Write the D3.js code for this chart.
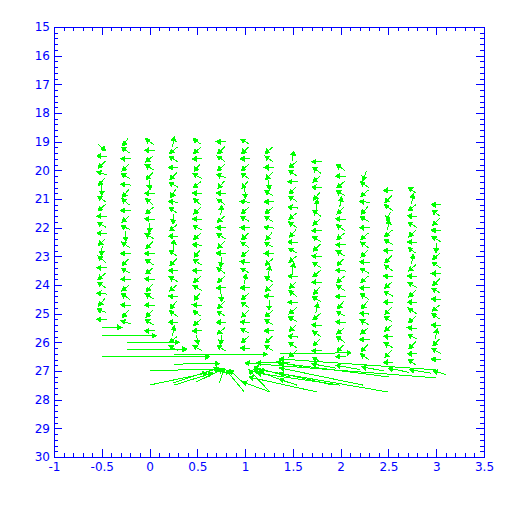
<!DOCTYPE html>
<html>
<head>
<meta charset="utf-8">
<script src="https://cdn.jsdelivr.net/npm/d3@7"></script>
<style>
  body { margin: 0; background: #fff; }
</style>
</head>
<body>
<svg id="chart" width="512" height="512"></svg>
<script>
// axis ticks
const xTicks = [-1, -0.5, 0, 0.5, 1, 1.5, 2, 2.5, 3, 3.5]
const xLabels = ["-1", "-0.5", "0", "0.5", "1", "1.5", "2", "2.5", "3", "3.5"]
const yTicks = [15, 16, 17, 18, 19, 20, 21, 22, 23, 24, 25, 26, 27, 28, 29, 30]
const yLabels = ["15", "16", "17", "18", "19", "20", "21", "22", "23", "24", "25", "26", "27", "28", "29", "30"]

// grid columns of the small vectors, first row of each column
const colX   = [-0.5, -0.25, 0, 0.25, 0.5, 0.75, 1, 1.25, 1.5, 1.75, 2, 2.25, 2.5, 2.75, 3]
const colTop = [19.2, 19.0, 19.0, 19.0, 19.0, 19.0, 19.0, 19.3, 19.5, 19.7, 19.9, 20.2, 20.7, 20.7, 21.2]
const rowStep = 0.3

// direction of each small vector (deg, 0 = +x, 90 = +y), one list per column, top to bottom
const dirs = [
  [40,180,135,200,130,90,215,140,180,210,185,135,95,220,180,140,215,185,130,200,180],
  [125,215,180,135,210,185,130,220,180,140,200,90,215,180,135,210,180,140,215,185,130,200],
  [215,180,140,210,135,85,180,220,140,185,95,210,135,180,215,140,185,130,210,180,135,215,180],
  [280,140,215,180,135,210,120,185,215,95,140,180,275,215,135,180,210,140,185,130,215,180,280,140,210],
  [215,140,180,130,210,140,185,220,135,180,210,140,185,130,215,180,140,210,130,185,215,140,180,80,210],
  [180,135,215,140,200,130,185,215,275,140,180,210,135,185,95,215,140,180,85,135,210,180,140,100,215],
  [210,135,180,140,215,130,85,185,140,210,180,135,215,140,185,210,280,180,140,215,135,185,210,140,180],
  [140,215,180,135,85,210,180,140,215,185,130,210,180,140,280,215,135,185,90,140,210,180,135,215],
  [280,140,215,180,135,210,185,140,215,130,180,210,140,280,185,135,215,180,140,210,135,185,215,140],
  [180,215,140,185,130,275,215,140,180,210,135,185,215,140,180,130,210,280,140,185,215,135,180,210],
  [215,180,140,210,280,135,185,215,140,180,210,135,185,140,215,180,130,210,185,140,215,135,180],
  [110,215,140,185,130,210,180,140,215,135,185,210,140,180,215,130,185,210,140,180,135,215],
  [180,135,215,115,280,140,210,180,135,215,185,140,210,180,135,215,140,185,210,135,180],
  [215,280,140,185,210,135,180,215,280,140,185,210,135,180,215,140,185,210,135,180,215],
  [180,215,135,185,210,95,140,215,180,135,210,185,140,215,180,280,135,210,185]
]

// long vectors near the sink: [x tail, y tail, x head, y head]
const longVecs = [
  [-0.5, 25.48, -0.29, 25.48],
  [-0.5, 25.77, 0.07, 25.77],
  [-0.24, 26.0, 0.31, 26.0],
  [-0.24, 26.24, 0.39, 26.24],
  [-0.5, 26.51, 0.63, 26.5],
  [0.26, 26.44, 1.23, 26.42],
  [1.36, 26.38, 2.11, 26.37],
  [0.26, 26.76, 0.73, 26.74],
  [0.0, 26.99, 0.74, 26.93],
  [0.0, 27.49, 0.6, 27.07],
  [0.24, 27.42, 0.72, 26.9],
  [0.26, 27.49, 0.66, 27.07],
  [0.49, 27.38, 0.77, 26.93],
  [0.73, 27.42, 0.78, 26.9],
  [0.99, 27.73, 0.8, 26.96],
  [0.97, 27.38, 0.84, 26.96],
  [1.26, 27.73, 1.04, 26.96],
  [1.47, 27.42, 1.09, 26.96],
  [1.47, 27.21, 1.09, 26.86],
  [1.47, 26.72, 1.12, 26.72],
  [3.0, 27.24, 1.0, 26.72],
  [2.49, 27.73, 1.15, 26.96],
  [1.99, 27.49, 1.12, 27.07],
  [1.75, 27.73, 1.04, 27.21],
  [1.26, 27.73, 0.97, 27.38],
  [2.51, 27.21, 1.36, 26.72],
  [2.23, 27.49, 1.36, 26.89],
  [1.92, 27.49, 1.36, 27.07],
  [3.0, 26.96, 1.36, 26.58],
  [1.54, 27.49, 1.36, 27.28],
  [1.6, 26.85, 1.33, 26.68],
  [1.95, 26.9, 1.7, 26.75],
  [2.2, 26.95, 1.95, 26.8],
  [2.45, 27.0, 2.22, 26.85],
  [2.72, 27.05, 2.5, 26.9],
  [2.95, 27.08, 2.72, 26.95],
  [3.1, 27.12, 2.97, 27.0]
]

const blue = "#0000ff"
const green = "#00ff00"

const svg = d3.select("svg#chart")
const x = d3.scaleLinear([-1, 3.5], [54, 484])
const y = d3.scaleLinear([15, 30], [27, 457])

// arrow: shaft plus small filled head at the tip
function arrow(x1, y1, x2, y2) {
  const a = Math.atan2(y2 - y1, x2 - x1), h = 4, w = 2.3
  const bx = x2 - h * Math.cos(a), by = y2 - h * Math.sin(a)
  return `M${x1},${y1}L${x2},${y2}` +
    `M${bx + w * Math.sin(a)},${by - w * Math.cos(a)}L${x2},${y2}` +
    `L${bx - w * Math.sin(a)},${by + w * Math.cos(a)}Z`
}

const small = []
dirs.forEach((list, i) => {
  list.forEach((deg, j) => {
    small.push({x: colX[i], y: colTop[i] + j * rowStep, deg})
  })
})

const half = 5
const vec = svg.append("g")
    .attr("stroke", green)
    .attr("fill", green)
    .attr("stroke-width", 1)
    .attr("shape-rendering", "crispEdges")

vec.selectAll("path.small")
  .data(small)
  .join("path")
    .attr("class", "small")
    .attr("d", d => {
      const cx = x(d.x), cy = y(d.y), r = d.deg * Math.PI / 180
      const dx = half * Math.cos(r), dy = half * Math.sin(r)
      return arrow(cx - dx, cy - dy, cx + dx, cy + dy)
    })

vec.selectAll("path.long")
  .data(longVecs)
  .join("path")
    .attr("class", "long")
    .attr("d", d => arrow(x(d[0]), y(d[1]), x(d[2]), y(d[3])))

// axes, ticks pointing inward on all four sides
const minorX = d3.range(-10, 36).map(d => d / 10)
const minorY = d3.range(75, 151).map(d => d / 5)

function axisStyle(g) {
  g.attr("color", blue)
    .attr("font-family", "DejaVu Sans")
    .attr("font-size", 12)
    .attr("shape-rendering", "crispEdges")
  g.select(".domain").remove()
}

svg.append("g").attr("transform", "translate(0,457)")
  .call(d3.axisBottom(x).tickValues(minorX).tickSize(-4).tickFormat(""))
  .call(axisStyle)
svg.append("g").attr("transform", "translate(0,457)")
  .call(d3.axisBottom(x).tickValues(xTicks).tickSize(-8).tickPadding(5)
    .tickFormat((d, i) => xLabels[i]))
  .call(axisStyle)
svg.append("g").attr("transform", "translate(0,27)")
  .call(d3.axisTop(x).tickValues(minorX).tickSize(-4).tickFormat(""))
  .call(axisStyle)
svg.append("g").attr("transform", "translate(0,27)")
  .call(d3.axisTop(x).tickValues(xTicks).tickSize(-8).tickFormat(""))
  .call(axisStyle)

svg.append("g").attr("transform", "translate(54,0)")
  .call(d3.axisLeft(y).tickValues(minorY).tickSize(-4).tickFormat(""))
  .call(axisStyle)
svg.append("g").attr("transform", "translate(54,0)")
  .call(d3.axisLeft(y).tickValues(yTicks).tickSize(-8).tickPadding(4)
    .tickFormat((d, i) => yLabels[i]))
  .call(axisStyle)
svg.append("g").attr("transform", "translate(484,0)")
  .call(d3.axisRight(y).tickValues(minorY).tickSize(-4).tickFormat(""))
  .call(axisStyle)
svg.append("g").attr("transform", "translate(484,0)")
  .call(d3.axisRight(y).tickValues(yTicks).tickSize(-8).tickFormat(""))
  .call(axisStyle)

svg.append("rect")
    .attr("x", 54.5).attr("y", 27.5)
    .attr("width", 430).attr("height", 430)
    .attr("fill", "none")
    .attr("stroke", blue)
    .attr("stroke-width", 1.5)
    .attr("shape-rendering", "crispEdges")
</script>
</body>
</html>
